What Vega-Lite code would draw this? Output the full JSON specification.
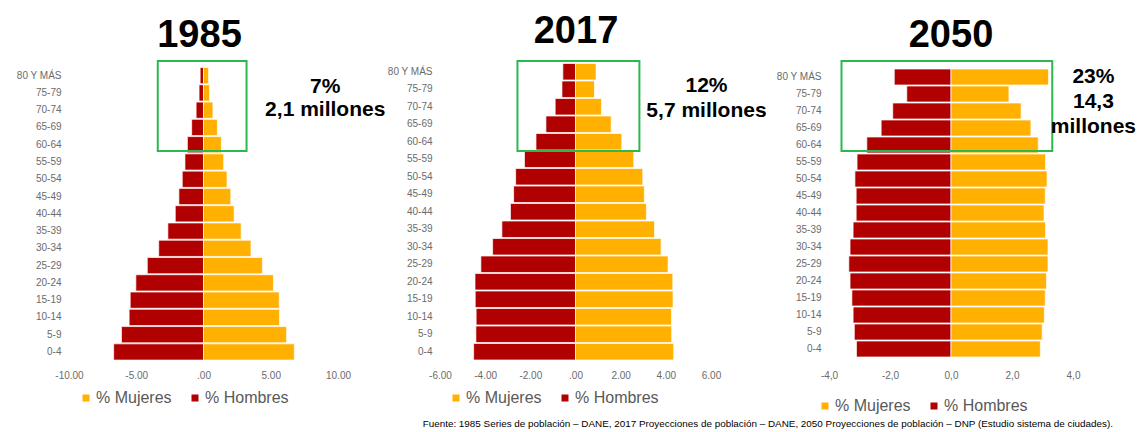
{
  "$schema": "https://vega.github.io/schema/vega-lite/v6.json",
  "background": "white",
  "padding": {"left": 15, "top": 13, "right": 4, "bottom": 4},
  "bounds": "flush",
  "spacing": 102,
  "title": {"text": "Fuente: 1985 Series de población – DANE, 2017 Proyecciones de población – DANE, 2050 Proyecciones de población – DNP (Estudio sistema de ciudades).", "orient": "bottom", "anchor": "end", "fontSize": 9.9, "fontWeight": "normal", "font": "Liberation Sans", "color": "#000000", "offset": 5, "dx": -23},
  "config": {
    "view": {"stroke": null},
    "axis": {"labelFont": "Liberation Sans", "labelFontSize": 10, "labelColor": "#6b6b6b", "ticks": false, "tickSize": 0, "domain": false, "grid": false, "labelPadding": 8, "labelFlush": false},
    "legend": {"labelFont": "Liberation Sans", "labelFontSize": 16, "labelColor": "#595959", "symbolType": "square", "symbolSize": 49, "symbolStrokeWidth": 0, "labelOffset": 2, "columnPadding": 15, "direction": "horizontal", "orient": "none", "padding": 0, "title": null},
    "text": {"font": "Liberation Sans"}
  },
  "datasets": {
    "bars": [
      {"year": "1985", "age": "80 Y MÁS", "sex": "% Hombres", "pct": -0.25},
      {"year": "1985", "age": "75-79", "sex": "% Hombres", "pct": -0.33},
      {"year": "1985", "age": "70-74", "sex": "% Hombres", "pct": -0.55},
      {"year": "1985", "age": "65-69", "sex": "% Hombres", "pct": -0.88},
      {"year": "1985", "age": "60-64", "sex": "% Hombres", "pct": -1.2},
      {"year": "1985", "age": "55-59", "sex": "% Hombres", "pct": -1.38},
      {"year": "1985", "age": "50-54", "sex": "% Hombres", "pct": -1.58},
      {"year": "1985", "age": "45-49", "sex": "% Hombres", "pct": -1.83},
      {"year": "1985", "age": "40-44", "sex": "% Hombres", "pct": -2.1},
      {"year": "1985", "age": "35-39", "sex": "% Hombres", "pct": -2.65},
      {"year": "1985", "age": "30-34", "sex": "% Hombres", "pct": -3.33},
      {"year": "1985", "age": "25-29", "sex": "% Hombres", "pct": -4.18},
      {"year": "1985", "age": "20-24", "sex": "% Hombres", "pct": -5.03},
      {"year": "1985", "age": "15-19", "sex": "% Hombres", "pct": -5.45},
      {"year": "1985", "age": "10-14", "sex": "% Hombres", "pct": -5.53},
      {"year": "1985", "age": "5-9", "sex": "% Hombres", "pct": -6.1},
      {"year": "1985", "age": "0-4", "sex": "% Hombres", "pct": -6.68},
      {"year": "1985", "age": "80 Y MÁS", "sex": "% Mujeres", "pct": 0.38},
      {"year": "1985", "age": "75-79", "sex": "% Mujeres", "pct": 0.45},
      {"year": "1985", "age": "70-74", "sex": "% Mujeres", "pct": 0.7},
      {"year": "1985", "age": "65-69", "sex": "% Mujeres", "pct": 1.03},
      {"year": "1985", "age": "60-64", "sex": "% Mujeres", "pct": 1.33},
      {"year": "1985", "age": "55-59", "sex": "% Mujeres", "pct": 1.5},
      {"year": "1985", "age": "50-54", "sex": "% Mujeres", "pct": 1.75},
      {"year": "1985", "age": "45-49", "sex": "% Mujeres", "pct": 2.03},
      {"year": "1985", "age": "40-44", "sex": "% Mujeres", "pct": 2.28},
      {"year": "1985", "age": "35-39", "sex": "% Mujeres", "pct": 2.8},
      {"year": "1985", "age": "30-34", "sex": "% Mujeres", "pct": 3.53},
      {"year": "1985", "age": "25-29", "sex": "% Mujeres", "pct": 4.38},
      {"year": "1985", "age": "20-24", "sex": "% Mujeres", "pct": 5.2},
      {"year": "1985", "age": "15-19", "sex": "% Mujeres", "pct": 5.63},
      {"year": "1985", "age": "10-14", "sex": "% Mujeres", "pct": 5.65},
      {"year": "1985", "age": "5-9", "sex": "% Mujeres", "pct": 6.18},
      {"year": "1985", "age": "0-4", "sex": "% Mujeres", "pct": 6.75},
      {"year": "2017", "age": "80 Y MÁS", "sex": "% Hombres", "pct": -0.56},
      {"year": "2017", "age": "75-79", "sex": "% Hombres", "pct": -0.6},
      {"year": "2017", "age": "70-74", "sex": "% Hombres", "pct": -0.9},
      {"year": "2017", "age": "65-69", "sex": "% Hombres", "pct": -1.31},
      {"year": "2017", "age": "60-64", "sex": "% Hombres", "pct": -1.75},
      {"year": "2017", "age": "55-59", "sex": "% Hombres", "pct": -2.26},
      {"year": "2017", "age": "50-54", "sex": "% Hombres", "pct": -2.65},
      {"year": "2017", "age": "45-49", "sex": "% Hombres", "pct": -2.74},
      {"year": "2017", "age": "40-44", "sex": "% Hombres", "pct": -2.88},
      {"year": "2017", "age": "35-39", "sex": "% Hombres", "pct": -3.26},
      {"year": "2017", "age": "30-34", "sex": "% Hombres", "pct": -3.67},
      {"year": "2017", "age": "25-29", "sex": "% Hombres", "pct": -4.19},
      {"year": "2017", "age": "20-24", "sex": "% Hombres", "pct": -4.45},
      {"year": "2017", "age": "15-19", "sex": "% Hombres", "pct": -4.44},
      {"year": "2017", "age": "10-14", "sex": "% Hombres", "pct": -4.4},
      {"year": "2017", "age": "5-9", "sex": "% Hombres", "pct": -4.41},
      {"year": "2017", "age": "0-4", "sex": "% Hombres", "pct": -4.51},
      {"year": "2017", "age": "80 Y MÁS", "sex": "% Mujeres", "pct": 0.91},
      {"year": "2017", "age": "75-79", "sex": "% Mujeres", "pct": 0.84},
      {"year": "2017", "age": "70-74", "sex": "% Mujeres", "pct": 1.15},
      {"year": "2017", "age": "65-69", "sex": "% Mujeres", "pct": 1.58},
      {"year": "2017", "age": "60-64", "sex": "% Mujeres", "pct": 2.05},
      {"year": "2017", "age": "55-59", "sex": "% Mujeres", "pct": 2.58},
      {"year": "2017", "age": "50-54", "sex": "% Mujeres", "pct": 2.98},
      {"year": "2017", "age": "45-49", "sex": "% Mujeres", "pct": 3.05},
      {"year": "2017", "age": "40-44", "sex": "% Mujeres", "pct": 3.14},
      {"year": "2017", "age": "35-39", "sex": "% Mujeres", "pct": 3.5},
      {"year": "2017", "age": "30-34", "sex": "% Mujeres", "pct": 3.79},
      {"year": "2017", "age": "25-29", "sex": "% Mujeres", "pct": 4.1},
      {"year": "2017", "age": "20-24", "sex": "% Mujeres", "pct": 4.31},
      {"year": "2017", "age": "15-19", "sex": "% Mujeres", "pct": 4.32},
      {"year": "2017", "age": "10-14", "sex": "% Mujeres", "pct": 4.25},
      {"year": "2017", "age": "5-9", "sex": "% Mujeres", "pct": 4.26},
      {"year": "2017", "age": "0-4", "sex": "% Mujeres", "pct": 4.35},
      {"year": "2050", "age": "80 Y MÁS", "sex": "% Hombres", "pct": -1.86},
      {"year": "2050", "age": "75-79", "sex": "% Hombres", "pct": -1.45},
      {"year": "2050", "age": "70-74", "sex": "% Hombres", "pct": -1.91},
      {"year": "2050", "age": "65-69", "sex": "% Hombres", "pct": -2.29},
      {"year": "2050", "age": "60-64", "sex": "% Hombres", "pct": -2.76},
      {"year": "2050", "age": "55-59", "sex": "% Hombres", "pct": -3.08},
      {"year": "2050", "age": "50-54", "sex": "% Hombres", "pct": -3.15},
      {"year": "2050", "age": "45-49", "sex": "% Hombres", "pct": -3.11},
      {"year": "2050", "age": "40-44", "sex": "% Hombres", "pct": -3.11},
      {"year": "2050", "age": "35-39", "sex": "% Hombres", "pct": -3.21},
      {"year": "2050", "age": "30-34", "sex": "% Hombres", "pct": -3.31},
      {"year": "2050", "age": "25-29", "sex": "% Hombres", "pct": -3.35},
      {"year": "2050", "age": "20-24", "sex": "% Hombres", "pct": -3.31},
      {"year": "2050", "age": "15-19", "sex": "% Hombres", "pct": -3.25},
      {"year": "2050", "age": "10-14", "sex": "% Hombres", "pct": -3.21},
      {"year": "2050", "age": "5-9", "sex": "% Hombres", "pct": -3.17},
      {"year": "2050", "age": "0-4", "sex": "% Hombres", "pct": -3.1},
      {"year": "2050", "age": "80 Y MÁS", "sex": "% Mujeres", "pct": 3.2},
      {"year": "2050", "age": "75-79", "sex": "% Mujeres", "pct": 1.9},
      {"year": "2050", "age": "70-74", "sex": "% Mujeres", "pct": 2.3},
      {"year": "2050", "age": "65-69", "sex": "% Mujeres", "pct": 2.62},
      {"year": "2050", "age": "60-64", "sex": "% Mujeres", "pct": 2.86},
      {"year": "2050", "age": "55-59", "sex": "% Mujeres", "pct": 3.1},
      {"year": "2050", "age": "50-54", "sex": "% Mujeres", "pct": 3.15},
      {"year": "2050", "age": "45-49", "sex": "% Mujeres", "pct": 3.09},
      {"year": "2050", "age": "40-44", "sex": "% Mujeres", "pct": 3.05},
      {"year": "2050", "age": "35-39", "sex": "% Mujeres", "pct": 3.1},
      {"year": "2050", "age": "30-34", "sex": "% Mujeres", "pct": 3.18},
      {"year": "2050", "age": "25-29", "sex": "% Mujeres", "pct": 3.18},
      {"year": "2050", "age": "20-24", "sex": "% Mujeres", "pct": 3.13},
      {"year": "2050", "age": "15-19", "sex": "% Mujeres", "pct": 3.09},
      {"year": "2050", "age": "10-14", "sex": "% Mujeres", "pct": 3.06},
      {"year": "2050", "age": "5-9", "sex": "% Mujeres", "pct": 2.99},
      {"year": "2050", "age": "0-4", "sex": "% Mujeres", "pct": 2.93}
    ],
    "boxes": [
      {"year": "1985", "x1": -3.4, "x2": 3.2, "y1": -0.35, "y2": 4.86},
      {"year": "2017", "x1": -2.57, "x2": 2.83, "y1": -0.11, "y2": 5.03},
      {"year": "2050", "x1": -3.59, "x2": 3.32, "y1": -0.44, "y2": 4.85}
    ],
    "notes": [
      {"year": "1985", "label": "7%", "nx": 9.05, "ny": 1.16},
      {"year": "1985", "label": "2,1 millones", "nx": 9.05, "ny": 2.49},
      {"year": "2017", "label": "12%", "nx": 5.8, "ny": 1.31},
      {"year": "2017", "label": "5,7 millones", "nx": 5.8, "ny": 2.77},
      {"year": "2050", "label": "23%", "nx": 4.67, "ny": 0.5},
      {"year": "2050", "label": "14,3", "nx": 4.67, "ny": 2.0},
      {"year": "2050", "label": "millones", "nx": 4.67, "ny": 3.47}
    ]
  },
  "resolve": {"scale": {"color": "independent"}, "legend": {"color": "independent"}},
  "hconcat": [
    {
      "width": 269, "height": 300,
      "title": {"text": "1985", "fontSize": 38, "fontWeight": "bold", "font": "Liberation Sans", "color": "#000000", "anchor": "middle", "frame": "group", "offset": -25, "baseline": "alphabetic", "dx": -4},
      "resolve": {"scale": {"y": "independent"}},
      "layer": [
        {
          "data": {"name": "bars"},
          "transform": [{"filter": "datum.year == '1985'"}],
          "mark": {"type": "bar", "stroke": "#ffffff", "strokeWidth": 0.7},
          "encoding": {
            "y": {"field": "age", "type": "nominal", "title": null, "sort": ["80 Y MÁS","75-79","70-74","65-69","60-64","55-59","50-54","45-49","40-44","35-39","30-34","25-29","20-24","15-19","10-14","5-9","0-4"], "scale": {"paddingInner": 0.06, "paddingOuter": 0.2155, "align": 0.741}},
            "x": {"field": "pct", "type": "quantitative", "stack": null, "title": null, "scale": {"domain": [-10, 10], "nice": false, "zero": false}, "axis": {"values": [-10, -5, 0, 5, 10], "labelExpr": "datum.value == 0 ? '.00' : (datum.value < 0 ? '-' : '') + format(abs(datum.value), '.2f')"}},
            "color": {"field": "sex", "type": "nominal", "scale": {"domain": ["% Mujeres", "% Hombres"], "range": ["#FFB000", "#B00000"]}, "legend": {"legendX": 9, "legendY": 328}}
          }
        },
        {
          "data": {"name": "boxes"},
          "transform": [{"filter": "datum.year == '1985'"}],
          "mark": {"type": "rect", "filled": false, "stroke": "#2DB84F", "strokeWidth": 2},
          "encoding": {
            "x": {"field": "x1", "type": "quantitative", "title": null},
            "x2": {"field": "x2"},
            "y": {"field": "y1", "type": "quantitative", "axis": null, "scale": {"domain": [-0.29, 17.08], "reverse": true, "nice": false, "zero": false}},
            "y2": {"field": "y2"}
          }
        },
        {
          "data": {"name": "notes"},
          "transform": [{"filter": "datum.year == '1985'"}],
          "mark": {"type": "text", "fontSize": 21, "fontWeight": "bold", "color": "#000000", "align": "center", "baseline": "middle"},
          "encoding": {
            "x": {"field": "nx", "type": "quantitative", "title": null},
            "y": {"field": "ny", "type": "quantitative", "axis": null, "scale": {"domain": [-0.29, 17.08], "reverse": true, "nice": false, "zero": false}},
            "text": {"field": "label"}
          }
        }
      ]
    },
    {
      "width": 287, "height": 300,
      "title": {"text": "2017", "fontSize": 38, "fontWeight": "bold", "font": "Liberation Sans", "color": "#000000", "anchor": "middle", "frame": "group", "offset": -21, "baseline": "alphabetic", "dx": -7.5},
      "resolve": {"scale": {"y": "independent"}},
      "layer": [
        {
          "data": {"name": "bars"},
          "transform": [{"filter": "datum.year == '2017'"}],
          "mark": {"type": "bar", "stroke": "#ffffff", "strokeWidth": 0.7},
          "encoding": {
            "y": {"field": "age", "type": "nominal", "title": null, "sort": ["80 Y MÁS","75-79","70-74","65-69","60-64","55-59","50-54","45-49","40-44","35-39","30-34","25-29","20-24","15-19","10-14","5-9","0-4"], "scale": {"paddingInner": 0.06, "paddingOuter": 0.1015, "align": 0.43}},
            "x": {"field": "pct", "type": "quantitative", "stack": null, "title": null, "scale": {"domain": [-6, 6.709], "nice": false, "zero": false}, "axis": {"values": [-6, -4, -2, 0, 2, 4, 6], "labelExpr": "datum.value == 0 ? '.00' : (datum.value < 0 ? '-' : '') + format(abs(datum.value), '.2f')"}},
            "color": {"field": "sex", "type": "nominal", "scale": {"domain": ["% Mujeres", "% Hombres"], "range": ["#FFB000", "#B00000"]}, "legend": {"legendX": 8, "legendY": 328}}
          }
        },
        {
          "data": {"name": "boxes"},
          "transform": [{"filter": "datum.year == '2017'"}],
          "mark": {"type": "rect", "filled": false, "stroke": "#2DB84F", "strokeWidth": 2},
          "encoding": {
            "x": {"field": "x1", "type": "quantitative", "title": null},
            "x2": {"field": "x2"},
            "y": {"field": "y1", "type": "quantitative", "axis": null, "scale": {"domain": [-0.057, 17.09], "reverse": true, "nice": false, "zero": false}},
            "y2": {"field": "y2"}
          }
        },
        {
          "data": {"name": "notes"},
          "transform": [{"filter": "datum.year == '2017'"}],
          "mark": {"type": "text", "fontSize": 21, "fontWeight": "bold", "color": "#000000", "align": "center", "baseline": "middle"},
          "encoding": {
            "x": {"field": "nx", "type": "quantitative", "title": null},
            "y": {"field": "ny", "type": "quantitative", "axis": null, "scale": {"domain": [-0.057, 17.09], "reverse": true, "nice": false, "zero": false}},
            "text": {"field": "label"}
          }
        }
      ]
    },
    {
      "width": 244, "height": 300,
      "title": {"text": "2050", "fontSize": 38, "fontWeight": "bold", "font": "Liberation Sans", "color": "#000000", "anchor": "middle", "frame": "group", "offset": -25, "baseline": "alphabetic", "dx": 0},
      "resolve": {"scale": {"y": "independent"}},
      "layer": [
        {
          "data": {"name": "bars"},
          "transform": [{"filter": "datum.year == '2050'"}],
          "mark": {"type": "bar", "stroke": "#ffffff", "strokeWidth": 0.7},
          "encoding": {
            "y": {"field": "age", "type": "nominal", "title": null, "sort": ["80 Y MÁS","75-79","70-74","65-69","60-64","55-59","50-54","45-49","40-44","35-39","30-34","25-29","20-24","15-19","10-14","5-9","0-4"], "scale": {"paddingInner": 0.06, "paddingOuter": 0.3535, "align": 0.583}},
            "x": {"field": "pct", "type": "quantitative", "stack": null, "title": null, "scale": {"domain": [-4, 4], "nice": false, "zero": false}, "axis": {"values": [-4, -2, 0, 2, 4], "labelExpr": "(datum.value < 0 ? '-' : '') + replace(format(abs(datum.value), '.1f'), '.', ',')"}},
            "color": {"field": "sex", "type": "nominal", "scale": {"domain": ["% Mujeres", "% Hombres"], "range": ["#FFB000", "#B00000"]}, "legend": {"legendX": -12, "legendY": 336}}
          }
        },
        {
          "data": {"name": "boxes"},
          "transform": [{"filter": "datum.year == '2050'"}],
          "mark": {"type": "rect", "filled": false, "stroke": "#2DB84F", "strokeWidth": 2},
          "encoding": {
            "x": {"field": "x1", "type": "quantitative", "title": null},
            "x2": {"field": "x2"},
            "y": {"field": "y1", "type": "quantitative", "axis": null, "scale": {"domain": [-0.38, 17.26], "reverse": true, "nice": false, "zero": false}},
            "y2": {"field": "y2"}
          }
        },
        {
          "data": {"name": "notes"},
          "transform": [{"filter": "datum.year == '2050'"}],
          "mark": {"type": "text", "fontSize": 21, "fontWeight": "bold", "color": "#000000", "align": "center", "baseline": "middle"},
          "encoding": {
            "x": {"field": "nx", "type": "quantitative", "title": null},
            "y": {"field": "ny", "type": "quantitative", "axis": null, "scale": {"domain": [-0.38, 17.26], "reverse": true, "nice": false, "zero": false}},
            "text": {"field": "label"}
          }
        }
      ]
    }
  ]
}
